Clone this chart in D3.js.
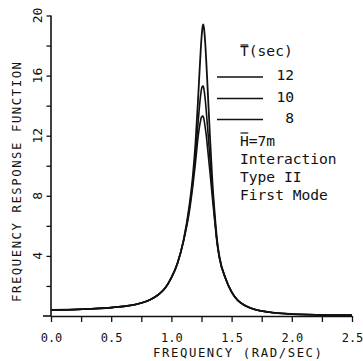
<!DOCTYPE html>
<html><head><meta charset="utf-8">
<script src="https://cdn.jsdelivr.net/npm/d3@7"></script>
<style>
html,body{margin:0;padding:0;background:#fff;}
svg{display:block;}
text{font-family:"DejaVu Sans Mono",monospace;fill:#111;}
</style></head>
<body>
<script>
// ---- data ----
const freq = [0, 0.25, 0.5, 0.6, 0.7, 0.8, 0.85, 0.9, 0.95, 1.0, 1.05, 1.1, 1.15, 1.18, 1.2, 1.22, 1.24, 1.25, 1.26, 1.265, 1.27, 1.28, 1.29, 1.3, 1.32, 1.34, 1.36, 1.38, 1.4, 1.45, 1.5, 1.55, 1.6, 1.7, 1.8, 1.9, 2.0, 2.2, 2.5];
const resp12 = [0.40, 0.45, 0.56, 0.64, 0.76, 1.0, 1.2, 1.47, 1.88, 2.55, 3.5, 5.0, 7.4, 9.5, 11.5, 14.2, 17.2, 18.5, 19.3, 19.4, 19.2, 18.3, 16.9, 15.3, 12.0, 9.0, 6.8, 5.0, 3.9, 2.5, 1.6, 1.05, 0.75, 0.42, 0.27, 0.18, 0.13, 0.08, 0.05];
const resp10 = [0.40, 0.45, 0.56, 0.64, 0.76, 1.0, 1.2, 1.47, 1.88, 2.55, 3.5, 5.0, 7.2, 9.1, 10.8, 12.7, 14.5, 15.1, 15.3, 15.3, 15.1, 14.5, 13.6, 12.6, 10.5, 8.4, 6.5, 4.9, 3.85, 2.5, 1.6, 1.05, 0.75, 0.42, 0.27, 0.18, 0.13, 0.08, 0.05];
const resp8  = [0.40, 0.45, 0.56, 0.64, 0.76, 1.0, 1.2, 1.47, 1.88, 2.55, 3.5, 4.95, 7.0, 8.8, 10.2, 11.8, 12.9, 13.25, 13.3, 13.25, 13.1, 12.6, 12.0, 11.2, 9.6, 7.9, 6.3, 4.8, 3.8, 2.5, 1.6, 1.05, 0.75, 0.42, 0.27, 0.18, 0.13, 0.08, 0.05];
const seriesNames = ["12", "10", "8"];
const xTicks = [0, 0.25, 0.5, 0.75, 1.0, 1.25, 1.5, 1.75, 2.0, 2.25, 2.5];
const xTickLabels = ["0.0", "", "0.5", "", "1.0", "", "1.5", "", "2.0", "", "2.5"];
const yTicks = [2, 4, 6, 8, 10, 12, 14, 16, 18, 20];
const yTickLabels = ["", "4", "", "8", "", "12", "", "16", "", "20"];
const xTitle = "FREQUENCY (RAD/SEC)";
const yTitle = "FREQUENCY RESPONSE FUNCTION";
const legendTitle = ["T", "(sec)"];
const notes = ["H=7m", "Interaction", "Type II", "First Mode"];

// ---- chart ----
const W = 363, H = 361;
const svg = d3.select("body").append("svg").attr("width", W).attr("height", H);
const x = d3.scaleLinear().domain([0, 2.5]).range([51, 352]);
const y = d3.scaleLinear().domain([0, 20]).range([316, 15.5]);

// axes
const xAxis = d3.axisBottom(x).tickValues(xTicks).tickSize(6).tickSizeOuter(0)
  .tickFormat((d, i) => xTickLabels[i]);
const gx = svg.append("g").attr("transform", `translate(0,${y(0)})`).call(xAxis);
gx.select(".domain").attr("stroke", "#111").attr("stroke-width", 1.6);
gx.selectAll(".tick line").attr("stroke", "#111").attr("stroke-width", 1.3);
gx.selectAll(".tick text").attr("font-size", 12).attr("fill", "#111")
  .attr("font-family", "DejaVu Sans Mono").attr("dy", null).attr("y", 25.5);
// left extension of x axis line
svg.append("line").attr("x1", 43).attr("x2", x(0)).attr("y1", y(0)).attr("y2", y(0))
  .attr("stroke", "#111").attr("stroke-width", 1.6);

const yAxis = d3.axisLeft(y).tickValues(yTicks).tickSize(4.5).tickSizeOuter(0).tickFormat("");
const gy = svg.append("g").attr("transform", `translate(${x(0)},0)`).call(yAxis);
gy.select(".domain").attr("stroke", "#111").attr("stroke-width", 1.6)
  .attr("d", `M0,${y(20)}V${y(0)}`);
gy.selectAll(".tick line").attr("stroke", "#111").attr("stroke-width", 1.3);
// rotated y tick labels
svg.append("g").selectAll("text").data(yTicks).join("text")
  .attr("transform", d => `translate(41.5,${y(d)}) rotate(-90)`)
  .attr("text-anchor", "middle").attr("font-size", 13)
  .text((d, i) => yTickLabels[i]);

// axis titles
svg.append("text").attr("x", 153).attr("y", 357).attr("font-size", 12.3)
  .attr("textLength", 169).attr("lengthAdjust", "spacing").text(xTitle);
svg.append("text").attr("transform", `translate(21,302) rotate(-90)`)
  .attr("font-size", 12.3).attr("textLength", 240).attr("lengthAdjust", "spacing").text(yTitle);

// curves
const line = d3.line().x((d, i) => x(freq[i])).y(d => y(d)).curve(d3.curveMonotoneX);
[resp12, resp10, resp8].forEach((s, k) => {
  svg.append("path").attr("d", line(s)).attr("fill", "none")
    .attr("stroke", "#111").attr("stroke-width", k === 0 ? 1.8 : 1.6)
    .attr("stroke-linejoin", "round");
});

// legend
const fs = 14.6, cw = fs * 0.602;
const lg = svg.append("g");
lg.append("text").attr("x", 240).attr("y", 55.5).attr("font-size", fs)
  .text(legendTitle[0] + legendTitle[1]);
lg.append("line").attr("x1", 240.5).attr("x2", 240 + cw - 0.5).attr("y1", 45).attr("y2", 45)
  .attr("stroke", "#111").attr("stroke-width", 1.2);
const legY = [77, 98.5, 119.5];
seriesNames.forEach((n, i) => {
  lg.append("line").attr("x1", 217).attr("x2", 263).attr("y1", legY[i]).attr("y2", legY[i])
    .attr("stroke", "#111").attr("stroke-width", 1.4);
  lg.append("text").attr("x", 294).attr("y", legY[i] + 3).attr("text-anchor", "end")
    .attr("font-size", fs).text(n);
});
const noteY = [146, 164, 182, 200];
notes.forEach((t, i) => {
  lg.append("text").attr("x", 240).attr("y", noteY[i]).attr("font-size", fs).text(t);
});
lg.append("line").attr("x1", 240.5).attr("x2", 240 + cw - 0.5).attr("y1", 133).attr("y2", 133)
  .attr("stroke", "#111").attr("stroke-width", 1.2);
</script>
</body></html>
